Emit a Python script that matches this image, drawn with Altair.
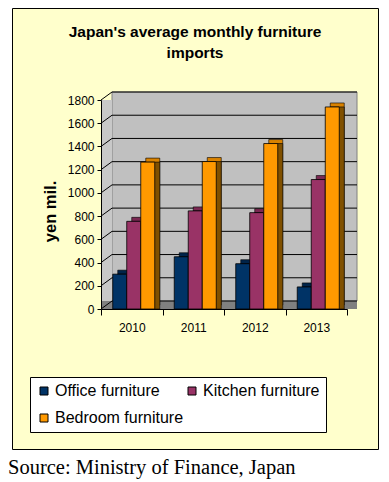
import altair as alt
import pandas as pd

# ---- data ----
years = ["2010", "2011", "2012", "2013"]
series = ["Office furniture", "Kitchen furniture", "Bedroom furniture"]
office = [300, 450, 390, 190]
kitchen = [755, 845, 830, 1115]
bedroom = [1265, 1270, 1425, 1740]
y_ticks = [0, 200, 400, 600, 800, 1000, 1200, 1400, 1600, 1800]
title_lines = ["Japan's average monthly furniture", "imports"]
source_text = "Source: Ministry of Finance, Japan"

front_colors = ["#003366", "#993366", "#FF9900"]
top_colors = ["#00244A", "#7A2852", "#D98200"]
side_colors = ["#001A33", "#4D1A33", "#805000"]

rows = []
for i, y in enumerate(years):
    for s, vals in zip(series, [office, kitchen, bedroom]):
        rows.append({"year": y, "series": s, "value": vals[i]})
df = pd.DataFrame(rows)
ticks_df = pd.DataFrame({"v": y_ticks})
one = pd.DataFrame({"a": [0]})

W, H = 246, 209
DEPTH_X, DEPTH_Y = 5, 4
WALL_X, WALL_Y = 11, 8
FONT = "Liberation Sans"

yscale = alt.Scale(domain=[0, 1800], nice=False, zero=True)
xscale = alt.Scale(paddingInner=0, paddingOuter=0)

y_axis = alt.Axis(values=y_ticks, format="d", grid=False, labelFont=FONT, labelFontSize=12,
                  labelColor="black", domainColor="black", tickColor="black",
                  tickSize=4, labelPadding=3, title="yen mil.", titleFont=FONT,
                  titleFontSize=16.5, titleFontWeight="bold", titleColor="black",
                  titleX=-46, titleY=111, titleAngle=-90, titleAlign="center",
                  titleBaseline="alphabetic", zindex=1)
x_axis = alt.Axis(labelAngle=0, labelFont=FONT, labelFontSize=12, labelColor="black",
                  domainColor="black", tickColor="black", tickSize=6, labelPadding=7,
                  tickBand="extent", title=None, zindex=1)

# ---- decorations ----
box = alt.Chart(one).mark_rect(fill="#FFFFCC", stroke="black", strokeWidth=1).encode(
    x=alt.value(-88.5), x2=alt.value(277.5), y=alt.value(-91.5), y2=alt.value(349.5)
)
back_wall = alt.Chart(one).mark_rect(fill="#C0C0C0", stroke="#808080", strokeWidth=1).encode(
    x=alt.value(WALL_X), x2=alt.value(W + WALL_X - 1), y=alt.value(-WALL_Y), y2=alt.value(H - WALL_Y)
)
left_wall = alt.Chart(one).mark_rect(fill="#C8C8C8").encode(
    x=alt.value(0), x2=alt.value(WALL_X), y=alt.value(0), y2=alt.value(H)
)
floor = alt.Chart(one).mark_rect(fill="#808080").encode(
    x=alt.value(0), x2=alt.value(W + WALL_X - 1), y=alt.value(H - WALL_Y), y2=alt.value(H)
)
grid = alt.Chart(ticks_df).mark_rule(color="black", strokeWidth=1, yOffset=-WALL_Y).encode(
    x=alt.value(WALL_X), x2=alt.value(W + WALL_X - 1),
    y=alt.Y("v:Q", scale=yscale, axis=y_axis),
)
diag = alt.Chart(ticks_df).mark_rule(color="black", strokeWidth=1, y2Offset=-WALL_Y).encode(
    x=alt.value(0), x2=alt.value(WALL_X),
    y=alt.Y("v:Q", scale=yscale, axis=y_axis), y2="v:Q",
)

# ---- bars ----
xoff_main = alt.Scale(domain=series, paddingInner=0, paddingOuter=0.696, range=[2, 63.5])
xoff_shadow = alt.Scale(domain=series, paddingInner=0, paddingOuter=0.696,
                        range=[2 + DEPTH_X, 63.5 + DEPTH_X])

top_face = alt.Chart(df).mark_bar(stroke="black", strokeWidth=0.6,
                                  yOffset=-DEPTH_Y, y2Offset=-DEPTH_Y).encode(
    x=alt.X("year:N", scale=xscale, sort=years, axis=x_axis),
    xOffset=alt.XOffset("series:N", scale=xoff_shadow, sort=series),
    y=alt.Y("value:Q", scale=yscale, axis=y_axis),
    color=alt.Color("series:N", scale=alt.Scale(domain=series, range=top_colors), legend=None),
)
side_face = alt.Chart(df).mark_bar(stroke="black", strokeWidth=0.6).encode(
    x=alt.X("year:N", scale=xscale, sort=years, axis=x_axis),
    xOffset=alt.XOffset("series:N", scale=xoff_shadow, sort=series),
    y=alt.Y("value:Q", scale=yscale, axis=y_axis),
    color=alt.Color("series:N", scale=alt.Scale(domain=series, range=side_colors), legend=None),
)
front = alt.Chart(df).mark_bar(stroke="black", strokeWidth=0.8).encode(
    x=alt.X("year:N", scale=xscale, sort=years, axis=x_axis),
    xOffset=alt.XOffset("series:N", scale=xoff_main, sort=series),
    y=alt.Y("value:Q", scale=yscale, axis=y_axis),
    color=alt.Color("series:N", scale=alt.Scale(domain=series, range=front_colors),
                    sort=series,
                    legend=alt.Legend(title=None, orient="none", legendX=-71, legendY=277,
                                      columns=2, direction="horizontal", symbolType="square",
                                      symbolSize=64, symbolStrokeColor="black",
                                      symbolStrokeWidth=1, labelFont=FONT, labelFontSize=16,
                                      labelColor="black", labelOffset=3, columnPadding=0,
                                      rowPadding=11, padding=6, strokeColor="black",
                                      fillColor="white", zindex=1, labelLimit=300)),
)

title1 = alt.Chart(one).mark_text(
    text=title_lines[0], font=FONT, fontSize=15.5, fontWeight="bold", align="center",
    baseline="alphabetic", color="black"
).encode(x=alt.value(94), y=alt.value(-63))
title2 = alt.Chart(one).mark_text(
    text=title_lines[1], font=FONT, fontSize=15.5, fontWeight="bold", align="center",
    baseline="alphabetic", color="black"
).encode(x=alt.value(94), y=alt.value(-42))

source = alt.Chart(one).mark_text(
    text=source_text, font="Liberation Serif", fontSize=20.5,
    align="left", baseline="alphabetic", color="black"
).encode(x=alt.value(-93), y=alt.value(374))

chart = alt.layer(
    box, back_wall, left_wall, floor, grid, diag, top_face, side_face, front,
    title1, title2, source
).resolve_scale(
    xOffset="independent", color="independent"
).properties(
    width=W, height=H,
    autosize=alt.AutoSizeParams(type="none"),
    padding={"left": 93, "top": 92, "right": 34, "bottom": 173},
).configure_view(stroke=None).configure(background="white")

chart.save("out.html", embed_options={"renderer": "svg", "actions": False})
